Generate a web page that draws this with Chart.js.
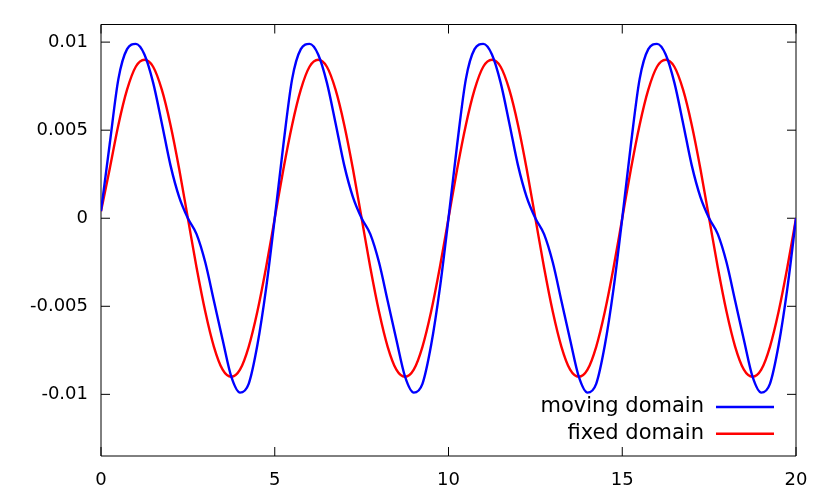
<!DOCTYPE html>
<html><head><meta charset="utf-8">
<script src="https://cdn.jsdelivr.net/npm/chart.js@4/dist/chart.umd.min.js"></script>
<style>html,body{margin:0;padding:0;background:#fff;}#wrap{width:830px;height:498px;}</style>
</head><body><div id="wrap"><canvas id="c" width="830" height="498"></canvas></div>
<script>
const xValues = [
 0, 0.25, 0.5, 0.75, 1, 1.25, 1.5, 1.75, 2, 2.25, 2.5, 2.75, 3, 3.25, 3.5, 3.75, 4, 4.25, 4.5, 4.75,
 5, 5.25, 5.5, 5.75, 6, 6.25, 6.5, 6.75, 7, 7.25, 7.5, 7.75, 8, 8.25, 8.5, 8.75, 9, 9.25, 9.5, 9.75,
 10, 10.25, 10.5, 10.75, 11, 11.25, 11.5, 11.75, 12, 12.25, 12.5, 12.75, 13, 13.25, 13.5, 13.75, 14, 14.25, 14.5, 14.75,
 15, 15.25, 15.5, 15.75, 16, 16.25, 16.5, 16.75, 17, 17.25, 17.5, 17.75, 18, 18.25, 18.5, 18.75, 19, 19.25, 19.5, 19.75,
 20
];
const movingDomain = [
 0.0004, 0.0042, 0.0079, 0.0096, 0.0099, 0.0093, 0.0077, 0.0054, 0.0030, 0.0012, 0.0000, -0.0009, -0.0025, -0.0047, -0.0069, -0.0090, -0.0099, -0.0094, -0.0072, -0.0040,
 0.0000, 0.0042, 0.0079, 0.0096, 0.0099, 0.0093, 0.0077, 0.0054, 0.0030, 0.0012, 0.0000, -0.0009, -0.0025, -0.0047, -0.0069, -0.0090, -0.0099, -0.0094, -0.0072, -0.0040,
 0.0000, 0.0042, 0.0079, 0.0096, 0.0099, 0.0093, 0.0077, 0.0054, 0.0030, 0.0012, 0.0000, -0.0009, -0.0025, -0.0047, -0.0069, -0.0090, -0.0099, -0.0094, -0.0072, -0.0040,
 0.0000, 0.0042, 0.0079, 0.0096, 0.0099, 0.0093, 0.0077, 0.0054, 0.0030, 0.0012, 0.0000, -0.0009, -0.0025, -0.0047, -0.0069, -0.0090, -0.0099, -0.0094, -0.0072, -0.0040,
 0.0000
];
const fixedDomain = [
 0.0004, 0.0028, 0.0053, 0.0073, 0.0086, 0.0090, 0.0086, 0.0073, 0.0053, 0.0028, 0.0000, -0.0028, -0.0053, -0.0073, -0.0086, -0.0090, -0.0086, -0.0073, -0.0053, -0.0028,
 0.0000, 0.0028, 0.0053, 0.0073, 0.0086, 0.0090, 0.0086, 0.0073, 0.0053, 0.0028, 0.0000, -0.0028, -0.0053, -0.0073, -0.0086, -0.0090, -0.0086, -0.0073, -0.0053, -0.0028,
 0.0000, 0.0028, 0.0053, 0.0073, 0.0086, 0.0090, 0.0086, 0.0073, 0.0053, 0.0028, 0.0000, -0.0028, -0.0053, -0.0073, -0.0086, -0.0090, -0.0086, -0.0073, -0.0053, -0.0028,
 0.0000, 0.0028, 0.0053, 0.0073, 0.0086, 0.0090, 0.0086, 0.0073, 0.0053, 0.0028, 0.0000, -0.0028, -0.0053, -0.0073, -0.0086, -0.0090, -0.0086, -0.0073, -0.0053, -0.0028,
 0.0000
];
const seriesNames = ['moving domain', 'fixed domain'];
const seriesColors = ['#0000ff', '#ff0000'];
const xTickValues = [0, 5, 10, 15, 20];
const xTickLabels = ['0', '5', '10', '15', '20'];
const yTickValues = [-0.01, -0.005, 0, 0.005, 0.01];
const yTickLabels = ['-0.01', '-0.005', '0', '0.005', '0.01'];

const FONT = 'DejaVu Sans';

const framePlugin = {
  id: 'frame',
  beforeDatasetsDraw(chart) {
    const {ctx, chartArea: a, scales} = chart;
    ctx.save();
    ctx.strokeStyle = '#000';
    ctx.lineWidth = 1;
    ctx.beginPath();
    ctx.rect(a.left, a.top, a.right - a.left, a.bottom - a.top);
    ctx.stroke();
    const L = 9;
    ctx.beginPath();
    scales.y.ticks.forEach(t => {
      const y = scales.y.getPixelForValue(t.value);
      ctx.moveTo(a.left, y); ctx.lineTo(a.left + L, y);
      ctx.moveTo(a.right, y); ctx.lineTo(a.right - L, y);
    });
    scales.x.ticks.forEach(t => {
      const x = scales.x.getPixelForValue(t.value);
      ctx.moveTo(x, a.bottom); ctx.lineTo(x, a.bottom - L);
      ctx.moveTo(x, a.top); ctx.lineTo(x, a.top + L);
    });
    ctx.stroke();
    ctx.restore();
  }
};

const keyPlugin = {
  id: 'key',
  afterDatasetsDraw(chart) {
    const {ctx, chartArea: a} = chart;
    ctx.save();
    ctx.font = '21px "' + FONT + '"';
    ctx.textAlign = 'right';
    ctx.textBaseline = 'middle';
    chart.data.datasets.forEach((ds, i) => {
      const y = a.bottom - 49 + i * 26.7;
      ctx.fillStyle = '#000';
      ctx.fillText(ds.label, a.right - 92, y);
      ctx.strokeStyle = ds.borderColor;
      ctx.lineWidth = 2.4;
      ctx.beginPath();
      ctx.moveTo(a.right - 80, y);
      ctx.lineTo(a.right - 22, y);
      ctx.stroke();
    });
    ctx.restore();
  }
};

const seriesData = [movingDomain, fixedDomain];
new Chart(document.getElementById('c'), {
  type: 'line',
  data: {
    datasets: seriesData.map((vals, k) => ({
      label: seriesNames[k],
      data: xValues.map((x, i) => ({x: x, y: vals[i]})),
      borderColor: seriesColors[k],
      backgroundColor: seriesColors[k],
      borderWidth: 2.4,
      pointRadius: 0,
      fill: false,
      cubicInterpolationMode: 'monotone'
    }))
  },
  options: {
    responsive: false,
    animation: false,
    devicePixelRatio: 1,
    layout: {padding: {top: 24.5, right: 34, left: 0, bottom: 0}},
    plugins: {legend: {display: false}, tooltip: {enabled: false}},
    scales: {
      x: {
        type: 'linear', min: 0, max: 20,
        afterBuildTicks: s => { s.ticks = xTickValues.map(v => ({value: v})); },
        afterFit: s => { s.height = 42; },
        ticks: {callback: (v, i) => xTickLabels[i], font: {family: FONT, size: 18}, color: '#000', padding: 14, maxRotation: 0, autoSkip: false},
        grid: {display: false, drawTicks: false},
        border: {display: false}
      },
      y: {
        type: 'linear', min: -0.0135, max: 0.011,
        afterBuildTicks: s => { s.ticks = yTickValues.map(v => ({value: v})); },
        afterFit: s => { s.width = 101; },
        ticks: {callback: (v, i) => yTickLabels[i], font: {family: FONT, size: 18}, color: '#000', padding: 13, autoSkip: false},
        grid: {display: false, drawTicks: false},
        border: {display: false}
      }
    }
  },
  plugins: [framePlugin, keyPlugin]
});
</script>
</body></html>
